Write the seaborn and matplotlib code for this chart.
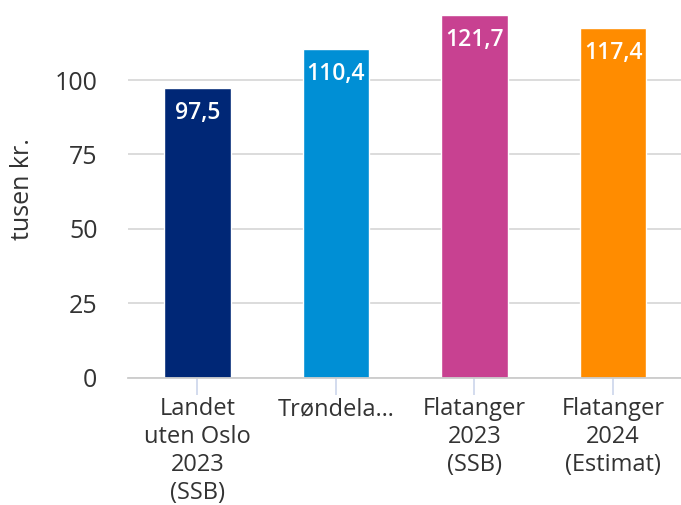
import matplotlib
matplotlib.use("Agg")
import matplotlib.pyplot as plt
import seaborn as sns
import pandas as pd

categories = ["Landet\nuten Oslo\n2023\n(SSB)", "Trøndela…", "Flatanger\n2023\n(SSB)", "Flatanger\n2024\n(Estimat)"]
values = [97.5, 110.4, 121.7, 117.4]
value_labels = ["97,5", "110,4", "121,7", "117,4"]
colors = ["#002776", "#008fd5", "#c84191", "#ff8c00"]
y_ticks = [0, 25, 50, 75, 100]
y_title = "tusen kr."

sns.set_theme(style="white")
plt.rcParams["font.family"] = ["Open Sans", "DejaVu Sans"]

df = pd.DataFrame({"cat": categories, "val": values})

fig = plt.figure(figsize=(6.81, 5.05), dpi=100)
ax = fig.add_axes([128 / 681, 1 - 377.7 / 505, 1 - 128 / 681, 377.7 / 505])

sns.barplot(data=df, x="cat", y="val", hue="cat", palette=colors, width=0.48,
            saturation=1, legend=False, ax=ax, zorder=3)

ax.set_xlim(-0.5, 3.49)
ax.set_ylim(0, 126.9)
ax.set_yticks(y_ticks)
ax.yaxis.grid(True, color="#d9d9d9", linewidth=1.3, zorder=0)
ax.set_axisbelow(True)

for s in ["top", "right", "left"]:
    ax.spines[s].set_visible(False)
ax.spines["bottom"].set_color("#cccccc")
ax.spines["bottom"].set_linewidth(1.3)
ax.spines["bottom"].set_zorder(4)

ax.tick_params(axis="x", length=12, width=1.2, color="#ccd6eb", pad=2,
               labelsize=17, labelcolor="#333333", bottom=True)
ax.tick_params(axis="y", length=0, pad=22, labelsize=18, labelcolor="#333333")
for lab in ax.get_xticklabels():
    lab.set_linespacing(1.22)
    lab.set_verticalalignment("top")

ax.set_xlabel("")
ax.set_ylabel(y_title, fontsize=18, color="#333333", labelpad=14)

for i, (v, t) in enumerate(zip(values, value_labels)):
    ax.annotate(t, xy=(i, v), xytext=(0, -18), textcoords="offset points",
                ha="center", va="center", color="white", fontsize=16.5,
                fontweight="semibold", zorder=5)

fig.savefig("out.png", dpi=100)
